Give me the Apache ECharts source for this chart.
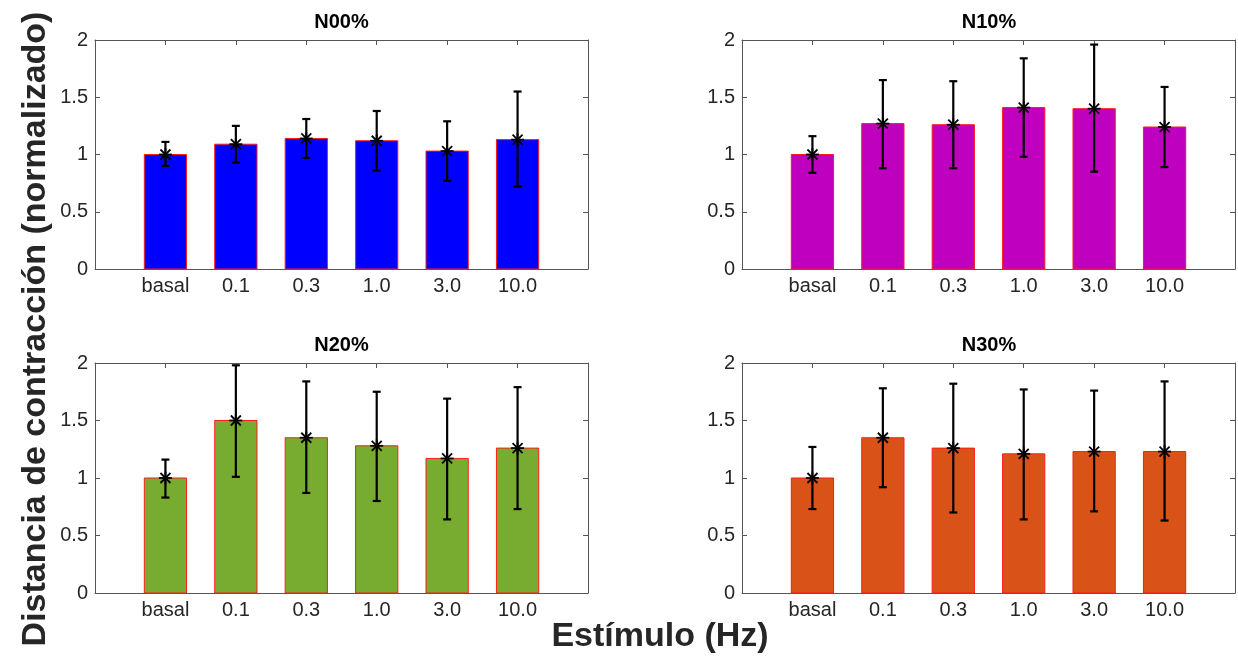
<!DOCTYPE html>
<html>
<head>
<meta charset="utf-8">
<script src="https://cdn.jsdelivr.net/npm/echarts@6/dist/echarts.min.js"></script>
<style>
  html, body { margin: 0; padding: 0; background: #ffffff; }
  #chart { width: 1238px; height: 665px; }
</style>
</head>
<body>
<div id="chart"></div>
<script>
// Stimulation frequencies (Hz) on the x axis
const categories = ['basal', '0.1', '0.3', '1.0', '3.0', '10.0'];
const panelTitles = ['N00%', 'N10%', 'N20%', 'N30%'];

// Normalised contraction distance: mean and error-bar bounds per group
const meanN00 = [1.00, 1.09, 1.14, 1.12, 1.03, 1.13];
const lowN00  = [0.90, 0.93, 0.97, 0.86, 0.77, 0.72];
const highN00 = [1.11, 1.25, 1.31, 1.38, 1.29, 1.55];

const meanN10 = [1.00, 1.27, 1.26, 1.41, 1.40, 1.24];
const lowN10  = [0.84, 0.88, 0.88, 0.98, 0.85, 0.89];
const highN10 = [1.16, 1.65, 1.64, 1.84, 1.96, 1.59];

const meanN20 = [1.00, 1.50, 1.35, 1.28, 1.17, 1.26];
const lowN20  = [0.83, 1.01, 0.87, 0.80, 0.64, 0.73];
const highN20 = [1.16, 1.98, 1.84, 1.75, 1.69, 1.79];

const meanN30 = [1.00, 1.35, 1.26, 1.21, 1.23, 1.23];
const lowN30  = [0.73, 0.92, 0.70, 0.64, 0.71, 0.63];
const highN30 = [1.27, 1.78, 1.82, 1.77, 1.76, 1.84];

const barColors = ['#0000ff', '#bf00bf', '#77ac30', '#d95319'];

const panels = [
  { mean: meanN00, low: lowN00, high: highN00 },
  { mean: meanN10, low: lowN10, high: highN10 },
  { mean: meanN20, low: lowN20, high: highN20 },
  { mean: meanN30, low: lowN30, high: highN30 }
];

// Panel boxes in pixels
const grids = [
  { left: 95,  width: 493, top: 40,  height: 229 },
  { left: 742, width: 494, top: 40,  height: 229 },
  { left: 95,  width: 493, top: 363, height: 230 },
  { left: 742, width: 494, top: 363, height: 230 }
];

const FONT = "'Liberation Sans', Arial, Helvetica, sans-serif";
const AXIS_COLOR = '#555555';
const TEXT_COLOR = '#262626';

function barRenderer(color) {
  return function (params, api) {
    const x = api.value(0);
    const top = api.coord([x, api.value(1)]);
    const base = api.coord([x, 0]);
    const w = api.size([0.6, 0])[0];
    return {
      type: 'rect',
      shape: { x: top[0] - w / 2, y: top[1], width: w, height: base[1] - top[1] },
      style: { fill: color, stroke: '#ff1a1a', lineWidth: 1 }
    };
  };
}

function seg(x1, y1, x2, y2, w) {
  return {
    type: 'line',
    shape: { x1: x1, y1: y1, x2: x2, y2: y2 },
    style: { stroke: '#000000', lineWidth: w }
  };
}

function errorRenderer(params, api) {
  const x = api.value(0);
  const pm = api.coord([x, api.value(1)]);
  const pl = api.coord([x, api.value(2)]);
  const ph = api.coord([x, api.value(3)]);
  const cap = 4, s = 6.5, d = 5;
  return {
    type: 'group',
    children: [
      seg(pl[0], pl[1], ph[0], ph[1], 2.2),
      seg(ph[0] - cap, ph[1], ph[0] + cap, ph[1], 2.2),
      seg(pl[0] - cap, pl[1], pl[0] + cap, pl[1], 2.2),
      // asterisk marker at the mean
      seg(pm[0] - s, pm[1], pm[0] + s, pm[1], 1.8),
      seg(pm[0], pm[1] - s, pm[0], pm[1] + s, 1.8),
      seg(pm[0] - d, pm[1] - d, pm[0] + d, pm[1] + d, 1.8),
      seg(pm[0] - d, pm[1] + d, pm[0] + d, pm[1] - d, 1.8)
    ]
  };
}

const xAxes = [], yAxes = [], series = [], titles = [];
panels.forEach(function (p, i) {
  const lineStyle = { show: true, onZero: false, lineStyle: { color: AXIS_COLOR, width: 1 } };
  const tickStyle = { show: true, inside: true, length: 5, lineStyle: { color: AXIS_COLOR } };
  const xBase = {
    gridIndex: i, type: 'value', min: 0, max: 7, interval: 1,
    splitLine: { show: false }, axisLine: lineStyle, axisTick: tickStyle
  };
  xAxes.push(Object.assign({}, xBase, {
    position: 'bottom',
    axisLabel: {
      show: true, margin: 7, fontSize: 20, fontFamily: FONT, color: TEXT_COLOR,
      formatter: function (v) { return categories[v - 1] || ''; }
    }
  }));
  xAxes.push(Object.assign({}, xBase, { position: 'top', axisLabel: { show: false } }));

  const yBase = {
    gridIndex: i, type: 'value', min: 0, max: 2, interval: 0.5,
    splitLine: { show: false }, axisLine: lineStyle, axisTick: tickStyle
  };
  yAxes.push(Object.assign({}, yBase, {
    position: 'left',
    axisLabel: { show: true, margin: 7, fontSize: 20, fontFamily: FONT, color: TEXT_COLOR }
  }));
  yAxes.push(Object.assign({}, yBase, { position: 'right', axisLabel: { show: false } }));

  const barData = p.mean.map(function (v, k) { return [k + 1, v]; });
  const errData = p.mean.map(function (v, k) { return [k + 1, v, p.low[k], p.high[k]]; });

  series.push({
    type: 'custom', xAxisIndex: 2 * i, yAxisIndex: 2 * i,
    renderItem: barRenderer(barColors[i]), data: barData, z: 2, silent: true
  });
  series.push({
    type: 'custom', xAxisIndex: 2 * i, yAxisIndex: 2 * i,
    renderItem: errorRenderer, data: errData, z: 3, silent: true
  });

  const g = grids[i];
  titles.push({
    text: panelTitles[i],
    left: g.left + g.width / 2, top: g.top - 28, textAlign: 'center', padding: 0,
    textStyle: { fontSize: 20, fontWeight: 'bold', fontFamily: FONT, color: '#000000' }
  });
});

titles.push({
  text: 'Estímulo (Hz)',
  left: 660, top: 620, textAlign: 'center', padding: 0,
  textStyle: { fontSize: 34, fontWeight: 'bold', fontFamily: FONT, color: TEXT_COLOR }
});

const chart = echarts.init(document.getElementById('chart'));
chart.setOption({
  backgroundColor: '#ffffff',
  animation: false,
  title: titles,
  grid: grids.map(function (g) { return Object.assign({ containLabel: false }, g); }),
  xAxis: xAxes,
  yAxis: yAxes,
  series: series,
  graphic: [{
    type: 'text',
    x: 36, y: 329, rotation: Math.PI / 2,
    style: {
      text: 'Distancia de contracción (normalizado)',
      fontSize: 34, fontWeight: 'bold', fontFamily: FONT, fill: TEXT_COLOR,
      align: 'center', verticalAlign: 'middle'
    }
  }]
});
</script>
</body>
</html>
